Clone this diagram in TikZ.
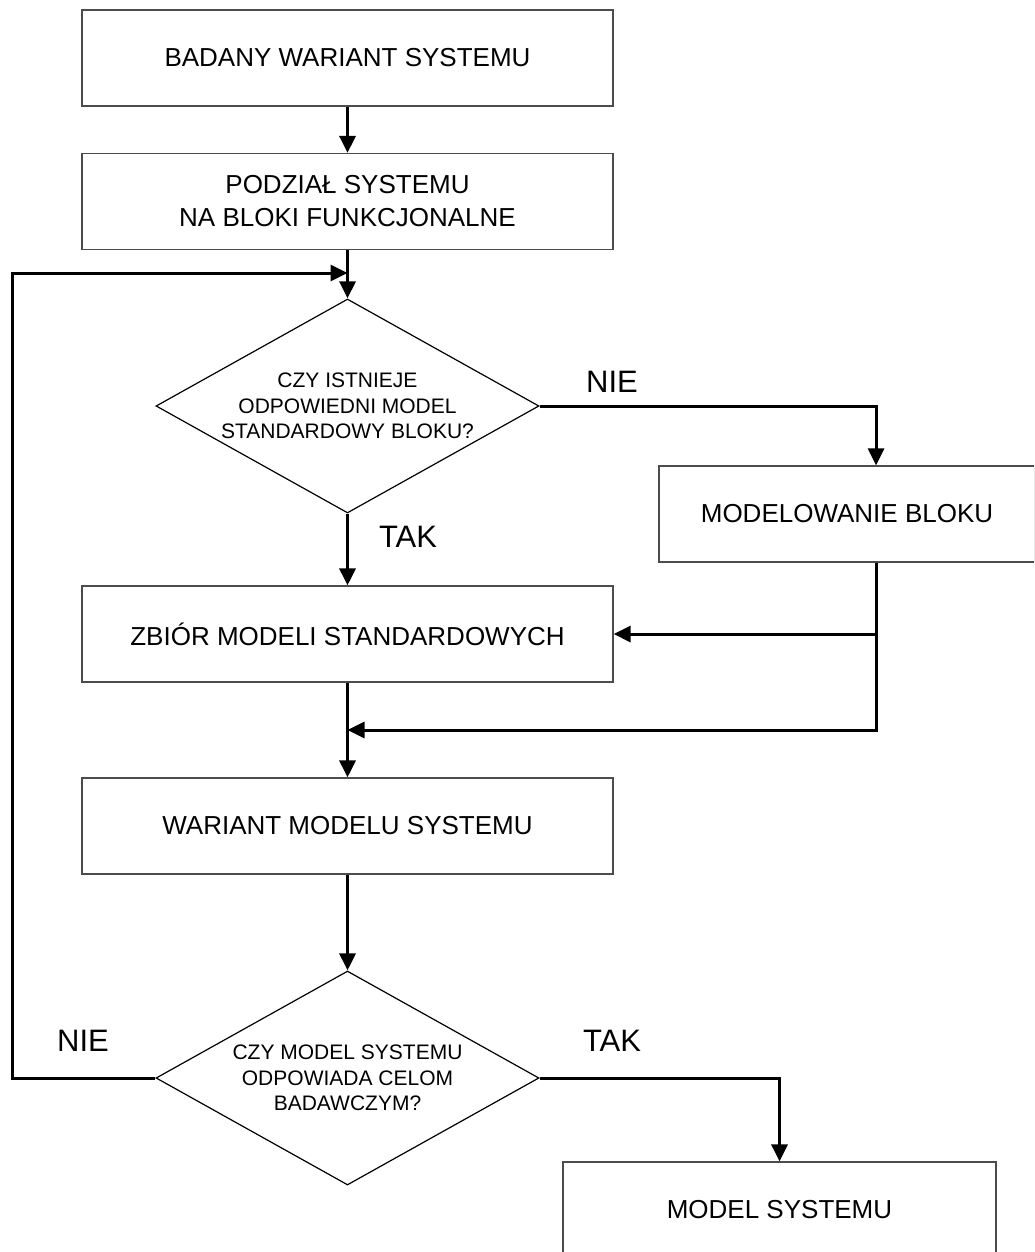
\documentclass[tikz,border=0pt]{standalone}
\usepackage{fontspec}
\setmainfont{Liberation Sans}
\usetikzlibrary{positioning, arrows.meta, shapes.geometric}

\begin{document}
\begin{tikzpicture}[x=1pt, y=-1pt]
\tikzstyle{block}=[draw=black!70, line width=1.2pt, rectangle, align=center, inner sep=0pt, minimum height=96pt, font=\fontsize{26}{33}\selectfont]
\tikzstyle{decision}=[draw, line width=1.2pt, diamond, aspect=1.79, inner sep=0pt, align=center, minimum width=383pt, minimum height=214pt, font=\fontsize{21}{25.5}\selectfont]
\tikzstyle{line}=[draw, ->, >={Triangle[length=17pt, width=16pt]}, line width=3pt]
\tikzstyle{answer}=[inner sep=0pt, font=\fontsize{31}{31}\selectfont]

\useasboundingbox (0,0) rectangle (1034,1252);
\clip (0,0) rectangle (1034,1252);

\def \cx {347.5}
\def \wide {531pt}

\node[block, minimum width=\wide]		(badany) at		(\cx,	58)		{BADANY WARIANT SYSTEMU};
\node[block, minimum width=\wide]		(podzial) at	(\cx,	201.5)	{PODZIAŁ SYSTEMU\\NA BLOKI FUNKCJONALNE};
\node[decision]							(istnieje) at	(\cx,	406)	{CZY ISTNIEJE\\ODPOWIEDNI MODEL\\STANDARDOWY BLOKU?};
\node[block, minimum width=376pt]		(modelowanie) at	(847,	514)	{MODELOWANIE BLOKU};
\node[block, minimum width=\wide]		(zbior) at		(\cx,	634)	{ZBIÓR MODELI STANDARDOWYCH};
\node[block, minimum width=\wide]		(wariant) at	(\cx,	826)	{WARIANT MODELU SYSTEMU};
\node[decision]							(odpowiada) at	(\cx,	1078)	{CZY MODEL SYSTEMU\\ODPOWIADA CELOM\\BADAWCZYM?};
\node[block, minimum width=433pt]		(model) at		(779.5,	1210)	{MODEL SYSTEMU};

\node[answer]	(nie1) at	(612,	382)	{NIE};
\node[answer]	(tak1) at	(408,	537)	{TAK};
\node[answer]	(nie2) at	(83,	1041)	{NIE};
\node[answer]	(tak2) at	(612,	1041)	{TAK};

\coordinate (loop) at		(12,	1078);
\coordinate (join) at		(\cx,	273);
\coordinate (branch) at		(876,	634);
\coordinate (merge) at		(876,	730);
\coordinate (mergein) at	(\cx,	730);

\path[line] (badany) -- (podzial);
\path[line] (podzial) -- (istnieje);
\path[line] (odpowiada.west) -- (loop) |- (join);

\path[line] (istnieje.east) -| (modelowanie.north -| branch);
\path[line] (istnieje) -- (zbior);
\path[line] (modelowanie.south -| branch) -- (merge) -- (mergein);
\path[line] (branch) -- (zbior.east);

\path[line] (zbior) -- (wariant);
\path[line] (wariant) -- (odpowiada);
\path[line] (odpowiada.east) -| (model.north);

\end{tikzpicture}
\end{document}
